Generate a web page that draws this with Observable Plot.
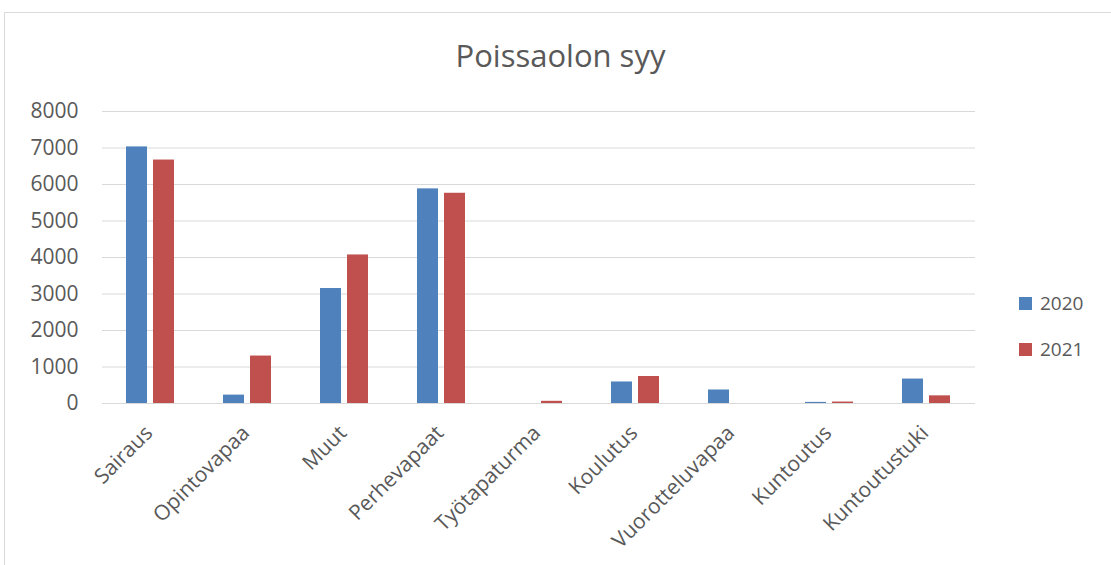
<!DOCTYPE html>
<html>
<head>
<meta charset="utf-8">
<script src="https://cdn.jsdelivr.net/npm/d3@7"></script>
<script src="https://cdn.jsdelivr.net/npm/@observablehq/plot@0.6"></script>
<style>
  html, body { margin: 0; padding: 0; background: #fff; overflow: hidden; }
  #wrap { position: relative; width: 1111px; height: 565px; font-family: "Open Sans", sans-serif; color: #595959; }
  #frame { position: absolute; left: 4px; top: 12px; width: 1200px; height: 700px; border: 1px solid #d9d9d9; box-sizing: border-box; }
  #title { position: absolute; left: 10px; width: 1101px; top: 35px; line-height: 40px; font-size: 31px; text-align: center; }
  #chart { position: absolute; left: 0; top: 90px; }
  #legend { position: absolute; left: 1019px; top: 293px; font-size: 19px; }
  .item { display: flex; align-items: center; height: 20px; margin-bottom: 26px; }
  .sw { width: 13px; height: 13px; margin-right: 8px; }
</style>
</head>
<body>
<div id="wrap">
  <div id="frame"></div>
  <div id="title">Poissaolon syy</div>
  <div id="chart"></div>
  <div id="legend"></div>
</div>
<script>
const categories = ["Sairaus", "Opintovapaa", "Muut", "Perhevapaat", "Työtapaturma", "Koulutus", "Vuorotteluvapaa", "Kuntoutus", "Kuntoutustuki"];
const series = ["2020", "2021"];
const values2020 = [7030, 230, 3150, 5880, 0, 590, 370, 30, 670];
const values2021 = [6670, 1300, 4070, 5760, 60, 740, 0, 40, 210];
const yTicks = [0, 1000, 2000, 3000, 4000, 5000, 6000, 7000, 8000];
const colors = ["#4F81BD", "#C0504D"];

const data = [];
categories.forEach((c, i) => {
  data.push({category: c, year: series[0], value: values2020[i]});
  data.push({category: c, year: series[1], value: values2021[i]});
});

const chart = Plot.plot({
  width: 1111,
  height: 475,
  marginLeft: 98,
  marginRight: 133,
  marginTop: 21,
  marginBottom: 162,
  style: {fontFamily: "Open Sans", fontSize: "20px", color: "#595959", background: "transparent"},
  fx: {domain: categories, padding: 0, label: null},
  x: {domain: series, axis: null, paddingInner: 0.214, paddingOuter: 0.854},
  y: {domain: [0, 8000], ticks: yTicks, label: null},
  color: {domain: series, range: colors},
  marks: [
    Plot.ruleY(yTicks, {stroke: "#d9d9d9", strokeWidth: 1.2}),
    Plot.barY(data, {fx: "category", x: "year", y: "value", fill: "year"}),
    Plot.axisY(yTicks, {tickSize: 0, tickPadding: 24, fontSize: 21, label: null, tickFormat: d => String(d)}),
    Plot.axisFx({anchor: "bottom", tickRotate: -45, tickSize: 0, tickPadding: 26, fontSize: 21, label: null, dx: -2})
  ]
});
document.getElementById("chart").appendChild(chart);

const legend = document.getElementById("legend");
series.forEach((s, i) => {
  const item = document.createElement("div");
  item.className = "item";
  const sw = document.createElement("div");
  sw.className = "sw";
  sw.style.background = colors[i];
  const t = document.createElement("span");
  t.textContent = s;
  item.appendChild(sw);
  item.appendChild(t);
  legend.appendChild(item);
});
</script>
</body>
</html>
